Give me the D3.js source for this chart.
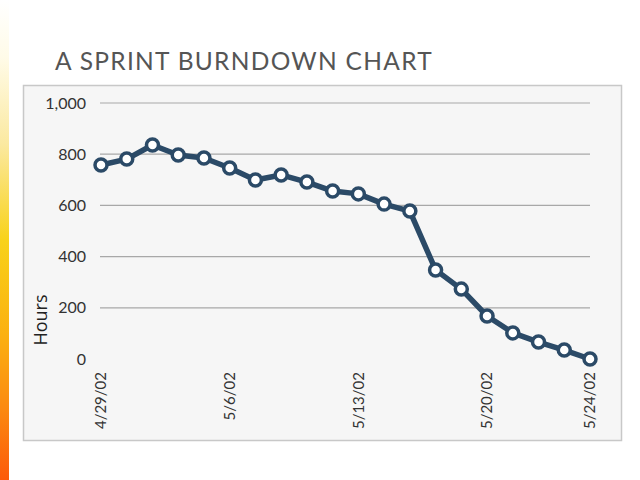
<!DOCTYPE html>
<html><head><meta charset="utf-8">
<script src="https://cdn.jsdelivr.net/npm/d3@7"></script>
<style>body{margin:0;background:#fff;}svg{display:block;}</style>
</head><body>
<svg id="c" width="640" height="480"></svg>
<script>
const dates = ["4/29/02","4/30/02","5/1/02","5/2/02","5/3/02","5/6/02","5/7/02","5/8/02","5/9/02","5/10/02","5/13/02","5/14/02","5/15/02","5/16/02","5/17/02","5/20/02","5/21/02","5/22/02","5/23/02","5/24/02"];
const hours = [758,781,836,797,785,746,699,719,691,656,645,605,578,348,273,168,102,66,35,0];
const yTicks = [0,200,400,600,800,1000];
const xLabels = ["4/29/02","5/6/02","5/13/02","5/20/02","5/24/02"];
const title = "A SPRINT BURNDOWN CHART";
const yTitle = "Hours";

const svg = d3.select("#c");
const defs = svg.append("defs");
const g1 = defs.append("linearGradient").attr("id","strip").attr("x1",0).attr("y1",0).attr("x2",0).attr("y2",1);
[[0,"#ffffff"],[0.12,"#fffbe8"],[0.3,"#fbe9a0"],[0.5,"#f8d21a"],[0.7,"#fbb010"],[0.85,"#fb8a10"],[1,"#fc5a0a"]].forEach(s=>g1.append("stop").attr("offset",s[0]).attr("stop-color",s[1]));
svg.append("rect").attr("x",0).attr("y",0).attr("width",9).attr("height",480).attr("fill","url(#strip)");

svg.append("text").attr("x",55).attr("y",70).text(title)
  .attr("font-family","Lato, 'Open Sans', sans-serif").attr("font-size",24.5).attr("fill","#555").attr("letter-spacing",1.3);

svg.append("rect").attr("x",23.5).attr("y",85.5).attr("width",598).attr("height",355)
  .attr("fill","#f6f6f6").attr("stroke","#c8c8c8").attr("stroke-width",1.5);

const x = d3.scalePoint().domain(dates).range([101,590]);
const y = d3.scaleLinear().domain([0,1000]).range([359,103]);

const grid = svg.append("g");
grid.selectAll("line").data(yTicks.filter(d=>d>0)).join("line")
  .attr("x1",100).attr("x2",590).attr("y1",d=>y(d)).attr("y2",d=>y(d))
  .attr("stroke","#a8a8a8").attr("stroke-width",1.2);

const yAxis = svg.append("g").attr("transform","translate(86,0)")
  .call(d3.axisLeft(y).tickValues(yTicks).tickSize(0).tickPadding(0).tickFormat(d3.format(",")));
yAxis.select(".domain").remove();
yAxis.selectAll("text").attr("font-family","Lato, 'Open Sans', sans-serif").attr("font-size",16).attr("fill","#333");

const xAxis = svg.append("g").attr("transform","translate(0,372)")
  .call(d3.axisBottom(x).tickValues(xLabels).tickSize(0).tickPadding(0));
xAxis.select(".domain").remove();
xAxis.selectAll(".tick").attr("transform",d=>`translate(${x(d)},0)`);
xAxis.selectAll(".tick text").attr("font-family","Lato, 'Open Sans', sans-serif").attr("font-size",15).attr("fill","#333")
  .attr("transform","rotate(-90)").attr("text-anchor","end").attr("x",0).attr("y",0).attr("dy","0.35em");

svg.append("text").attr("transform","translate(47,320) rotate(-90)").attr("text-anchor","middle")
  .text(yTitle).attr("font-family","'Open Sans', Lato, sans-serif").attr("font-size",18).attr("fill","#222");

const line = d3.line().x((d,i)=>x(dates[i])).y(d=>y(d));
svg.append("path").datum(hours).attr("d",line).attr("fill","none")
  .attr("stroke","#2b4a67").attr("stroke-width",5.5).attr("stroke-linejoin","round");
svg.selectAll("circle.pt").data(hours).join("circle").attr("class","pt")
  .attr("cx",(d,i)=>x(dates[i])).attr("cy",d=>y(d)).attr("r",6)
  .attr("fill","#ffffff").attr("stroke","#2b4a67").attr("stroke-width",3.5);
</script>
</body></html>
